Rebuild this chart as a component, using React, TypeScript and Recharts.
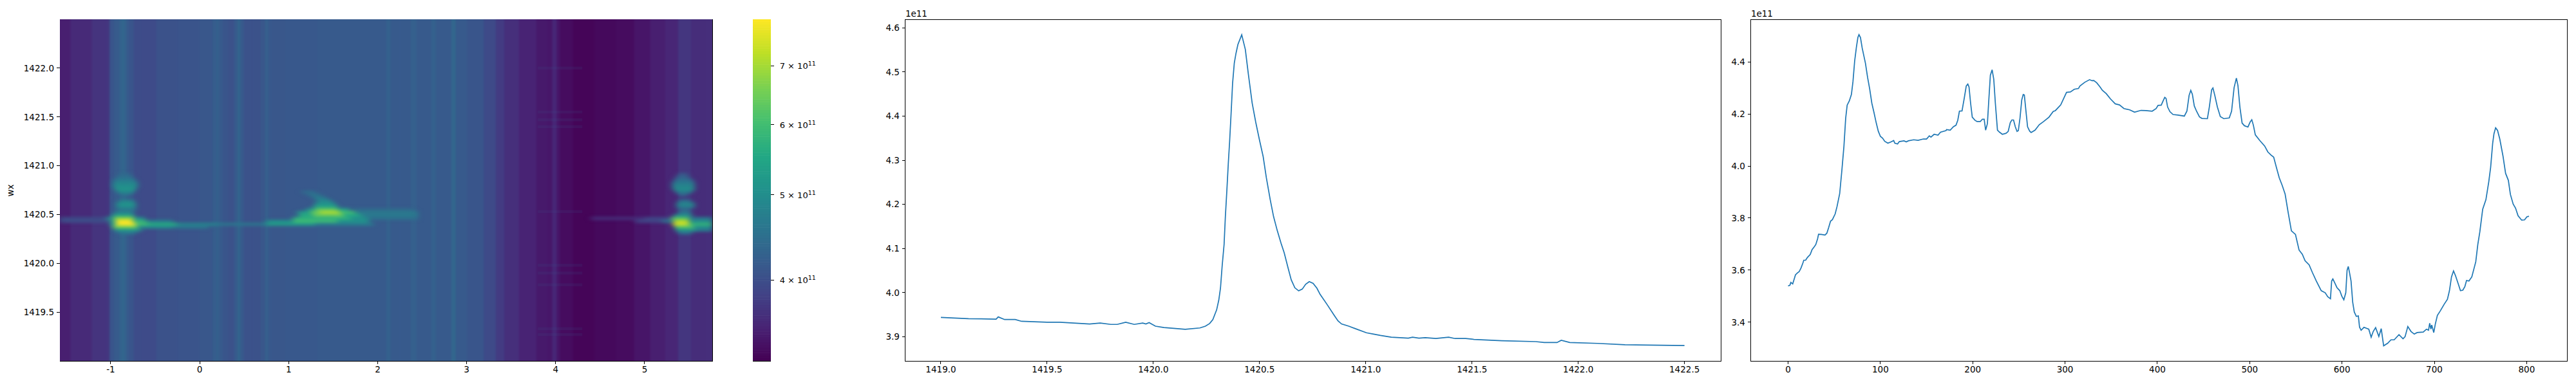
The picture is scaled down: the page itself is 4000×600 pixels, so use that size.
import React from 'react';
import { ComposedChart, LineChart, Line, Scatter, XAxis, YAxis, ReferenceArea } from 'recharts';

// ---------- profile (right panel), unit 1e11
const profileX = [0,2,3,5,7,8,10,12,14,16,17,19,21,24,26,28,30,32,33,36,40,42,44,46,48,51,53,55.9,58.2,60.5,62.4,64,66.3,68.6,70.3,72.1,74,75.6,76.8,78.4,80.3,83.8,86.1,88.4,90.7,93.1,95.4,97.7,100,102.4,104.7,108.1,111.6,114.4,115.6,118.6,120.5,125.6,128,130.3,136.1,140.8,146.6,150,153,154.7,158.2,162.4,165.1,171,171.7,175.6,179.1,181.9,183.8,185.6,188.4,190.7,193,194.7,196,197.7,199.5,202.4,204.7,208.2,210.5,212.4,214,215.9,217.5,219.1,221,222.8,224.5,226.8,229.1,232.1,236.1,238.4,240.7,242.4,244.2,246.1,248,249.4,251.2,253.1,254.7,255.9,257.5,259.4,261.7,263.3,267.5,272.1,276.8,282.6,287.2,289.5,295.3,301.6,305.8,310,314.5,316.2,321.4,326.6,329.1,331.1,334.3,337.7,340.5,344.7,349.2,354.4,359,363.8,370,375.3,382.3,387.5,394.4,398.7,400.7,404.2,405.9,408,409.4,411.1,413.6,417,422.3,429.2,432,434.4,436.2,437.9,440,442.4,445.6,448.3,454.2,456.3,458.8,460.2,462.2,465,468.2,472,477.9,480.4,483.1,485.6,487.3,489.4,491.8,494.3,498.1,500.5,502.3,504,506.1,511,516.2,519.7,523.2,526,529,532,535.3,538.4,541.7,545.2,549.6,553.5,557,560,564.4,567.9,572.2,577.5,581.8,584.5,587.5,588.8,590.1,592.3,594.5,597.6,599.8,602,604.1,605.5,606.8,608,609.8,611.6,613.3,615.5,617.7,619,620.7,623.8,629,631.6,633.8,636.4,639.9,642.5,645.1,649.5,653,656.5,661.7,666.1,668.3,671.3,674.8,678.3,681.4,688,691.5,693.7,695,696.3,697.2,699.4,701.1,703.3,706.4,710.7,714.2,716.4,718.6,720.8,723,726.1,728.3,730.9,733.1,734.9,737.5,740.6,744.9,747.1,749.3,752.4,755.9,759,761,763.2,764.6,766.4,768.5,770.9,774.4,777.2,780.2,782.4,785.4,788,790.7,794.6,797.7,800.3,802.5];
const profileV = [3.539,3.542,3.553,3.547,3.57,3.582,3.589,3.594,3.608,3.627,3.638,3.638,3.649,3.66,3.679,3.688,3.698,3.721,3.738,3.737,3.735,3.742,3.764,3.788,3.794,3.816,3.844,3.894,3.981,4.076,4.184,4.234,4.25,4.275,4.325,4.403,4.457,4.494,4.505,4.494,4.453,4.395,4.341,4.296,4.242,4.205,4.167,4.134,4.114,4.107,4.095,4.088,4.093,4.098,4.088,4.085,4.094,4.097,4.093,4.097,4.101,4.099,4.104,4.104,4.116,4.111,4.122,4.119,4.13,4.136,4.14,4.138,4.151,4.157,4.176,4.211,4.212,4.258,4.308,4.315,4.304,4.242,4.188,4.176,4.171,4.171,4.18,4.18,4.138,4.163,4.258,4.349,4.37,4.333,4.242,4.138,4.13,4.122,4.126,4.133,4.167,4.177,4.177,4.151,4.133,4.136,4.184,4.254,4.275,4.273,4.217,4.151,4.134,4.129,4.138,4.159,4.171,4.188,4.21,4.213,4.235,4.283,4.285,4.295,4.298,4.308,4.322,4.332,4.328,4.329,4.32,4.305,4.291,4.278,4.258,4.239,4.235,4.221,4.216,4.207,4.214,4.213,4.211,4.221,4.233,4.234,4.248,4.264,4.26,4.227,4.209,4.198,4.196,4.192,4.211,4.272,4.291,4.276,4.231,4.211,4.189,4.183,4.182,4.227,4.293,4.3,4.272,4.227,4.19,4.182,4.185,4.211,4.301,4.338,4.309,4.227,4.165,4.155,4.15,4.169,4.178,4.157,4.12,4.098,4.077,4.054,4.042,4.034,3.994,3.955,3.925,3.892,3.821,3.751,3.737,3.677,3.661,3.636,3.62,3.591,3.558,3.521,3.513,3.498,3.49,3.558,3.566,3.55,3.533,3.521,3.5,3.486,3.513,3.599,3.614,3.593,3.558,3.476,3.439,3.422,3.424,3.381,3.369,3.38,3.373,3.342,3.364,3.379,3.345,3.375,3.309,3.319,3.332,3.332,3.352,3.336,3.344,3.383,3.364,3.354,3.36,3.362,3.373,3.369,3.396,3.373,3.389,3.36,3.393,3.426,3.443,3.469,3.488,3.521,3.574,3.597,3.578,3.545,3.521,3.523,3.537,3.56,3.558,3.574,3.632,3.698,3.747,3.834,3.871,3.94,3.995,4.087,4.124,4.147,4.137,4.104,4.038,3.972,3.945,3.891,3.854,3.838,3.809,3.792,3.793,3.805,3.807];

// ---------- spectrum (middle panel), unit 1e11
const spectrumX = [1419,1419.13,1419.26,1419.27,1419.3,1419.35,1419.38,1419.5,1419.56,1419.7,1419.75,1419.8,1419.83,1419.87,1419.91,1419.95,1419.965,1419.98,1420.01,1420.05,1420.15,1420.219,1420.245,1420.265,1420.28,1420.298,1420.308,1420.316,1420.324,1420.333,1420.339,1420.346,1420.353,1420.359,1420.366,1420.373,1420.381,1420.389,1420.398,1420.416,1420.433,1420.447,1420.465,1420.482,1420.499,1420.517,1420.532,1420.55,1420.566,1420.583,1420.601,1420.616,1420.633,1420.649,1420.666,1420.684,1420.701,1420.717,1420.734,1420.752,1420.77,1420.785,1420.818,1420.852,1420.869,1420.886,1420.92,1420.953,1421.003,1421.037,1421.069,1421.12,1421.2,1421.22,1421.25,1421.28,1421.33,1421.39,1421.42,1421.47,1421.51,1421.64,1421.8,1421.84,1421.9,1421.92,1421.96,1422.09,1422.22,1422.5];
const spectrumV = [3.944,3.941,3.94,3.945,3.939,3.939,3.935,3.933,3.933,3.929,3.931,3.928,3.928,3.933,3.928,3.931,3.929,3.932,3.924,3.921,3.917,3.92,3.924,3.93,3.939,3.961,3.983,4.01,4.061,4.109,4.172,4.231,4.294,4.342,4.406,4.474,4.52,4.542,4.562,4.584,4.551,4.496,4.43,4.386,4.347,4.308,4.26,4.211,4.172,4.141,4.112,4.09,4.058,4.029,4.011,4.004,4.008,4.019,4.025,4.021,4.01,3.996,3.973,3.948,3.936,3.929,3.924,3.918,3.909,3.906,3.903,3.899,3.897,3.899,3.897,3.898,3.896,3.899,3.896,3.896,3.894,3.891,3.889,3.887,3.887,3.892,3.887,3.885,3.882,3.88];

// ---------- heatmap background: value of each column away from the line
const backTau = [-1.57,-1.33,-1.088,-1.02,-1.0,-0.919,-0.883,-0.859,-0.835,-0.81,-0.774,-0.702,-0.606,-0.364,-0.123,0.118,0.178,0.203,0.234,0.287,0.36,0.42,0.444,0.468,0.528,0.649,0.721,0.757,0.789,0.842,1.083,1.565,2.05,2.075,2.122,2.17,2.34,2.41,2.47,2.58,2.63,2.68,2.8,2.858,2.9,3.11,3.28,3.38,3.47,3.71,3.86,3.956,3.97,3.985,4.0,4.028,4.076,4.317,4.559,4.8,4.969,5.16,5.306,5.45,5.596,5.76];
const backV = [3.5,3.6,3.7,3.72,4.1,4.18,4.28,4.36,4.28,4.17,4.1,3.98,3.96,4.05,4.08,4.12,4.2,4.26,4.17,4.1,4.06,4.18,4.36,4.16,4.06,4.05,4.12,4.25,4.14,4.12,4.14,4.16,4.17,4.17,4.27,4.17,4.17,4.25,4.17,4.17,4.27,4.17,4.17,4.34,4.16,4.1,3.95,3.78,3.65,3.53,3.45,3.43,3.56,3.58,3.56,3.42,3.34,3.28,3.31,3.34,3.42,3.5,3.56,3.72,3.63,3.64];

// ---------- heatmap features near the line, read as runs [tauFrom, tauTo, value]
const hotWx = [1420.91,1420.88,1420.85,1420.82,1420.79,1420.76,1420.73,1420.70,1420.67,1420.64,1420.61,1420.58,1420.55,1420.52,1420.49,1420.46,1420.43,1420.40,1420.37,1420.34,1420.31];
const hotRuns: number[][][] = [
  [[-0.9,-0.78,4.4],[5.38,5.48,4.2]],
  [[-0.93,-0.75,4.5],[5.35,5.5,4.3]],
  [[-0.96,-0.72,4.7],[5.33,5.54,4.5]],
  [[-0.97,-0.7,4.9],[5.31,5.56,4.7]],
  [[-0.97,-0.7,5.0],[5.31,5.56,4.85]],
  [[-0.95,-0.72,5.15],[5.32,5.56,5.0]],
  [[-0.92,-0.74,4.9],[1.15,1.3,4.45],[5.35,5.53,4.7]],
  [[-0.88,-0.78,4.5],[1.22,1.36,4.55],[5.39,5.47,4.4]],
  [[1.28,1.42,4.7]],
  [[-0.9,-0.74,4.8],[1.32,1.48,4.9],[5.38,5.52,4.5]],
  [[-0.93,-0.72,5.1],[1.3,1.52,5.1],[5.36,5.56,4.85]],
  [[-0.93,-0.72,5.0],[1.28,1.55,5.4],[5.36,5.56,4.75]],
  [[-0.92,-0.72,4.6],[1.2,1.3,5.2],[1.3,1.55,6.4],[1.55,1.68,5.4],[1.72,2.4,4.4],[5.38,5.52,4.3]],
  [[-0.95,-0.75,4.8],[1.1,1.25,5.3],[1.25,1.35,6.4],[1.35,1.58,7.1],[1.58,1.75,6.0],[1.75,2.45,4.65],[5.38,5.52,4.6]],
  [[-0.98,-0.74,5.4],[1.12,1.28,5.6],[1.28,1.62,6.4],[1.62,1.82,5.5],[1.82,2.45,4.65],[5.33,5.53,5.0]],
  [[-1.57,-1.05,3.95],[-1.05,-0.96,5.0],[-0.96,-0.74,6.8],[-0.74,-0.62,5.0],[1.05,1.7,5.7],[1.7,1.9,5.0],[1.9,2.45,4.5],[4.4,5.0,3.65],[5.0,5.3,3.9],[5.3,5.5,6.2],[5.5,5.76,4.6]],
  [[-1.57,-1.0,4.0],[-1.0,-0.94,5.6],[-0.94,-0.75,7.9],[-0.75,-0.6,5.8],[-0.6,-0.3,4.7],[0.75,1.05,5.0],[1.05,1.55,6.0],[1.55,1.9,5.1],[4.9,5.2,3.9],[5.2,5.33,4.6],[5.33,5.5,7.2],[5.5,5.76,5.0]],
  [[-1.0,-0.94,5.4],[-0.94,-0.72,7.9],[-0.72,-0.58,6.0],[-0.58,-0.25,5.6],[-0.25,0.2,4.8],[0.2,0.75,4.6],[0.75,1.3,5.3],[1.3,1.95,4.7],[5.32,5.5,7.4],[5.5,5.76,5.8]],
  [[-0.97,-0.7,6.5],[-0.7,-0.3,4.9],[-0.3,0.1,4.6],[5.34,5.55,6.2],[5.55,5.76,5.0]],
  [[-0.95,-0.66,5.2],[5.35,5.58,5.2],[5.58,5.76,4.7]],
  [[-0.9,-0.72,4.6],[5.38,5.53,4.5]],
];

// faint horizontal patches between tau 3.8 and 4.3
const patchWx = [1422.0,1421.55,1421.47,1421.4,1420.53,1419.98,1419.9,1419.78,1419.33,1419.27];

const tauTicks = [-1,0,1,2,3,4,5];
const wxTicks = [1419.5,1420,1420.5,1421,1421.5,1422];
const spectrumYTicks = [3.9,4,4.1,4.2,4.3,4.4,4.5,4.6];
const spectrumXTicks = [1419,1419.5,1420,1420.5,1421,1421.5,1422,1422.5];
const profileYTicks = [3.4,3.6,3.8,4,4.2,4.4];
const profileXTicks = [0,100,200,300,400,500,600,700,800];
const colorbarTicks = [4,5,6,7];
const viridisStops = ['#440154','#471164','#482475','#414487','#355f8d','#2a788e','#21918c','#22a884','#44bf70','#7ad151','#bddf26','#fde725'];
const viridisAt = [0,0.05,0.1,0.2,0.3,0.4,0.5,0.6,0.7,0.8,0.9,1];

// ---------- styling / layout
const FONT = '"DejaVu Sans"';
const FS = 13.5;
const BLUE = '#1f77b4';
const tickStyle = { fontSize: FS, fill: '#000', fontFamily: FONT };
const axisStyle = { stroke: '#000', strokeWidth: 1, shapeRendering: 'crispEdges' };
const VMIN = 3.24, VMAX = 7.9;
const TAU_MIN = -1.5708, TAU_MAX = 5.76, WX_MIN = 1419, WX_MAX = 1422.5;
const H = 600, TOP = 30, BOTTOM = 39;
const PLOT_H = H - TOP - BOTTOM;
const HM_W = 1130, HM_L = 93, HM_R = 24;
const HM_PW = HM_W - HM_L - HM_R;
const pxTau = HM_PW / (TAU_MAX - TAU_MIN);
const pxWx = PLOT_H / (WX_MAX - WX_MIN);

function hex(c: string) { return [1, 3, 5].map((i) => parseInt(c.slice(i, i + 2), 16)); }
function colormap(t: number) {
  const u = Math.max(0, Math.min(1, t));
  let i = 0;
  while (i < viridisAt.length - 2 && u > viridisAt[i + 1]) i++;
  const f = (u - viridisAt[i]) / (viridisAt[i + 1] - viridisAt[i]);
  const a = hex(viridisStops[i]), b = hex(viridisStops[i + 1]);
  return `rgb(${a.map((v, k) => Math.round(v + (b[k] - v) * f)).join(',')})`;
}
const colorOf = (v: number) => colormap(Math.log(v / VMIN) / Math.log(VMAX / VMIN));

// table rows built from the arrays
const columnCells = backTau.map((x, i) => {
  const t0 = i === 0 ? TAU_MIN : (backTau[i - 1] + x) / 2;
  const t1 = i === backTau.length - 1 ? TAU_MAX : (x + backTau[i + 1]) / 2;
  return { x: (t0 + t1) / 2, y: (WX_MIN + WX_MAX) / 2, w: t1 - t0, h: WX_MAX - WX_MIN, v: backV[i] };
});
const hotCells = hotWx.flatMap((wx, r) => hotRuns[r].map(([t0, t1, v]) => ({ x: (t0 + t1) / 2, y: wx, w: t1 - t0, h: 0.03, v })));
const patchCells = patchWx.map((wx) => ({ x: 4.05, y: wx, w: 0.5, h: 0.03, v: 3.9 }));
const spectrumData = spectrumX.map((x, i) => ({ x, y: spectrumV[i] }));
const profileData = profileX.map((x, i) => ({ x, y: profileV[i] }));
const barN = 128;
const barCells = Array.from({ length: barN }, (_, i) => ({ x: 0.5, y: VMIN * Math.pow(VMAX / VMIN, (i + 0.5) / barN), t: (i + 0.5) / barN }));

const cellShape = (p: any) => {
  const { cx, cy, payload } = p;
  const w = payload.w * pxTau + 0.6, h = payload.h * pxWx + 0.2;
  return <rect x={cx - w / 2} y={cy - h / 2} width={w} height={h} fill={colorOf(payload.v)} />;
};
const patchShape = (p: any) => {
  const { cx, cy, payload } = p;
  const w = payload.w * pxTau, h = payload.h * pxWx;
  return <rect x={cx - w / 2} y={cy - h / 2} width={w} height={h} fill="#3b528b" fillOpacity={0.14} />;
};
const barShape = (p: any) => {
  const { cy, payload } = p;
  const h = PLOT_H / barN + 0.6;
  return <rect x={p.cx - 14} y={cy - h / 2} width={28} height={h} fill={colormap(payload.t)} />;
};

const ColorbarTick = (p: any) => {
  const { x, y, payload } = p;
  return (
    <text x={x + 7} y={y + 5} fontFamily={FONT} fontSize={13} fill="#000">
      {`${payload.value / 1} \u00d7 10`}
      <tspan dy={-5} fontSize={9.5}>11</tspan>
    </text>
  );
};

const fmt1 = (v: number) => v.toFixed(1);

const Frame = ({ x1, x2, y1, y2 }: any) => (
  <ReferenceArea x1={x1} x2={x2} y1={y1} y2={y2} fill="none" stroke="#000" strokeWidth={1} shapeRendering="crispEdges" ifOverflow="visible" />
);

export default function App() {
  return (
    <div style={{ position: 'absolute', left: 0, top: 0, width: 4000, height: 600, background: '#fff', overflow: 'hidden' }}>
      <style>{`.hot-layer{filter:url(#hotBlur)} .back-layer{filter:url(#backBlur)}`}</style>
      <svg width={0} height={0} style={{ position: 'absolute' }}>
        <defs>
          <filter id="hotBlur" filterUnits="userSpaceOnUse" x={HM_L} y={TOP} width={HM_PW} height={PLOT_H} colorInterpolationFilters="sRGB">
            <feGaussianBlur stdDeviation="5 2.4" />
          </filter>
          <filter id="backBlur" filterUnits="userSpaceOnUse" x={HM_L} y={TOP} width={HM_PW} height={PLOT_H} colorInterpolationFilters="sRGB">
            <feGaussianBlur stdDeviation="1.8 0" />
          </filter>
        </defs>
      </svg>

      {/* heatmap */}
      <div style={{ position: 'absolute', left: 0, top: 0 }}>
        <ComposedChart width={HM_W} height={H} margin={{ top: TOP, right: HM_R, bottom: 0, left: 0 }}>
          <XAxis dataKey="x" type="number" domain={[TAU_MIN, TAU_MAX]} ticks={tauTicks} allowDataOverflow height={BOTTOM} tick={tickStyle} tickLine={axisStyle} axisLine={axisStyle} tickSize={5} tickMargin={3} interval={0} />
          <YAxis dataKey="y" type="number" domain={[WX_MIN, WX_MAX]} ticks={wxTicks} allowDataOverflow width={HM_L} tick={tickStyle} tickLine={axisStyle} axisLine={axisStyle} tickSize={5} tickMargin={4} interval={0} tickFormatter={fmt1} />
          <Scatter data={columnCells} shape={cellShape} isAnimationActive={false} />
          <Scatter data={columnCells} shape={cellShape} isAnimationActive={false} className="back-layer" />
          <Scatter data={patchCells} shape={patchShape} isAnimationActive={false} />
          <Scatter data={hotCells} shape={cellShape} isAnimationActive={false} className="hot-layer" />
          {Frame({ x1: TAU_MIN, x2: TAU_MAX, y1: WX_MIN, y2: WX_MAX })}
          <text transform={`translate(${21},${296}) rotate(-90)`} textAnchor="middle" fontFamily={FONT} fontSize={FS} fill="#000">wx</text>
        </ComposedChart>
      </div>

      {/* colorbar */}
      <div style={{ position: 'absolute', left: 1160, top: 0 }}>
        <ComposedChart width={120} height={H} margin={{ top: TOP, right: 0, bottom: BOTTOM, left: 9.3 }}>
          <XAxis dataKey="x" type="number" domain={[0, 1]} hide />
          <YAxis yAxisId="c" orientation="right" dataKey="y" type="number" scale="log" domain={[VMIN, VMAX]} ticks={colorbarTicks} allowDataOverflow width={83.3} tick={ColorbarTick} tickLine={axisStyle} axisLine={false} tickSize={5} interval={0} />
          <Scatter yAxisId="c" data={barCells} shape={barShape} isAnimationActive={false} />
          <ReferenceArea yAxisId="c" x1={0} x2={1} y1={VMIN} y2={VMAX} fill="none" stroke="#000" strokeWidth={1} shapeRendering="crispEdges" ifOverflow="visible" />
        </ComposedChart>
      </div>

      {/* spectrum */}
      <div style={{ position: 'absolute', left: 1340, top: 0 }}>
        <LineChart width={1360} height={H} data={spectrumData} margin={{ top: TOP, right: 27.6, bottom: 0, left: 0 }}>
          <XAxis dataKey="x" type="number" domain={[1418.833, 1422.672]} ticks={spectrumXTicks} allowDataOverflow height={BOTTOM} tick={tickStyle} tickLine={axisStyle} axisLine={axisStyle} tickSize={5} tickMargin={3} interval={0} tickFormatter={fmt1} />
          <YAxis type="number" domain={[3.8453, 4.6192]} ticks={spectrumYTicks} allowDataOverflow width={65.9} tick={tickStyle} tickLine={axisStyle} axisLine={axisStyle} tickSize={5} tickMargin={4} interval={0} tickFormatter={fmt1} />
          <Line dataKey="y" type="linear" stroke={BLUE} strokeWidth={1.7} dot={false} isAnimationActive={false} />
          {Frame({ x1: 1418.833, x2: 1422.672, y1: 3.8453, y2: 4.6192 })}
          <text x={65.9} y={26} fontFamily={FONT} fontSize={FS} fill="#000">1e11</text>
        </LineChart>
      </div>

      {/* profile */}
      <div style={{ position: 'absolute', left: 2650, top: 0 }}>
        <LineChart width={1350} height={H} data={profileData} margin={{ top: TOP, right: 14, bottom: 0, left: 0 }}>
          <XAxis dataKey="x" type="number" domain={[-40.2, 843.7]} ticks={profileXTicks} allowDataOverflow height={BOTTOM} tick={tickStyle} tickLine={axisStyle} axisLine={axisStyle} tickSize={5} tickMargin={3} interval={0} />
          <YAxis type="number" domain={[3.251, 4.564]} ticks={profileYTicks} allowDataOverflow width={68.9} tick={tickStyle} tickLine={axisStyle} axisLine={axisStyle} tickSize={5} tickMargin={4} interval={0} tickFormatter={fmt1} />
          <Line dataKey="y" type="linear" stroke={BLUE} strokeWidth={1.7} dot={false} isAnimationActive={false} />
          {Frame({ x1: -40.2, x2: 843.7, y1: 3.251, y2: 4.564 })}
          <text x={68.9} y={26} fontFamily={FONT} fontSize={FS} fill="#000">1e11</text>
        </LineChart>
      </div>
    </div>
  );
}
